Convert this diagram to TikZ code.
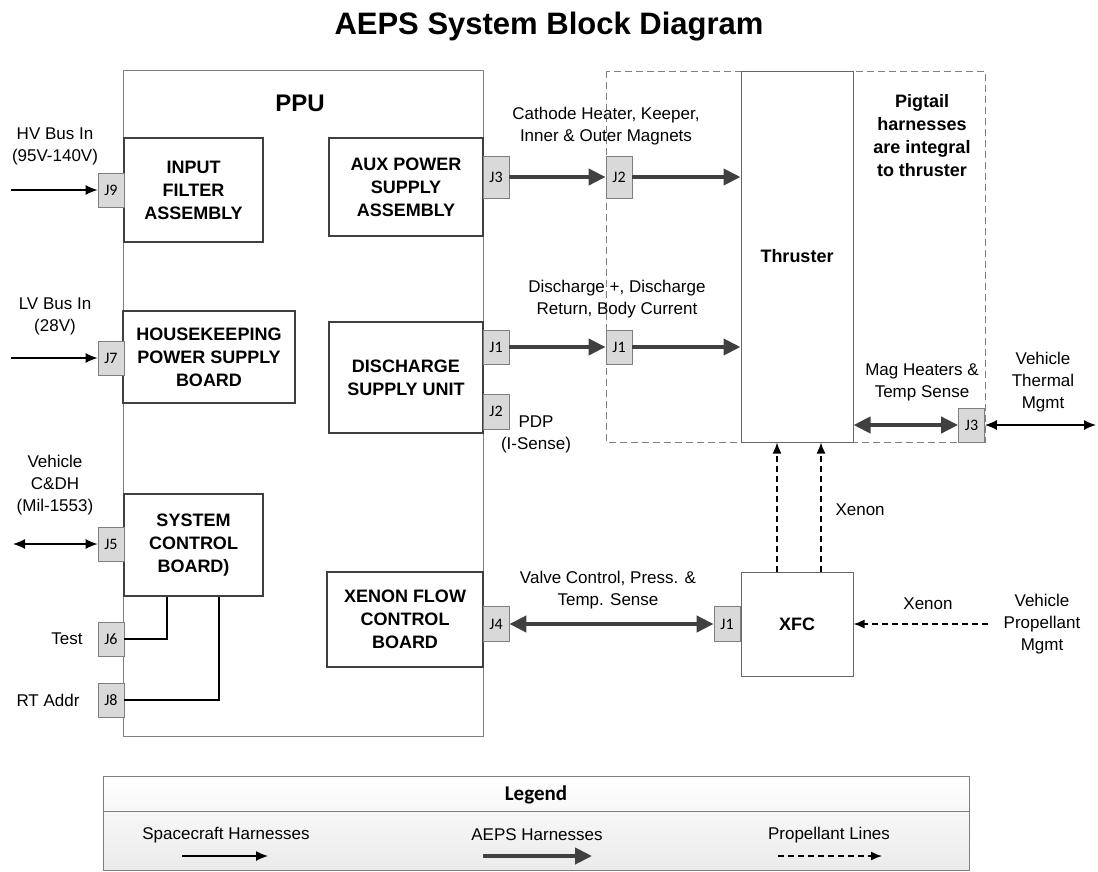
\documentclass[tikz,border=0pt]{standalone}
\usepackage{fontspec}
\setmainfont{Liberation Sans}
\newfontfamily\legendfont{Carlito}
\usetikzlibrary{arrows.meta}

\definecolor{harness}{HTML}{404040}
\definecolor{jackfill}{HTML}{D9D9D9}
\definecolor{frame}{HTML}{7F7F7F}

\begin{document}
\begin{tikzpicture}[x=1pt,y=-1pt,
  block/.style={draw=harness,line width=1.3pt,align=center,inner sep=0pt,font=\fontsize{18}{23}\selectfont\bfseries},
  unit/.style={draw=harness!80,line width=1pt,inner sep=0pt,font=\fontsize{18}{23}\selectfont\bfseries},
  jack/.style={draw=frame,fill=jackfill,line width=0.8pt,minimum width=26pt,minimum height=34pt,inner sep=0pt,font=\legendfont\fontsize{16}{16}\selectfont},
  lbl/.style={align=center,font=\fontsize{17}{22}\selectfont},
  sc/.style={line width=1.3pt,-{Latex[length=12pt,width=10pt]}},
  bisc/.style={line width=1.3pt,{Latex[length=12pt,width=10pt]}-{Latex[length=12pt,width=10pt]}},
  aeps/.style={draw=harness,line width=4pt,-{Triangle[length=17pt,width=16pt]}},
  biaeps/.style={draw=harness,line width=4pt,{Triangle[length=17pt,width=16pt]}-{Triangle[length=17pt,width=16pt]}},
  prop/.style={line width=1.5pt,dash pattern=on 6pt off 4pt,-{Latex[length=11pt,width=9pt]}}]

\useasboundingbox (0,0) rectangle (1098,871);

\node[anchor=base,font=\fontsize{31}{31}\selectfont\bfseries] (title) at (549,34) {AEPS System Block Diagram};

\draw[frame,line width=1pt] (123,70) rectangle (483,736);
\node[font=\fontsize{24}{24}\selectfont\bfseries] (ppu) at (300,103) {PPU};

\draw[frame,line width=1pt,dash pattern=on 7pt off 4pt] (606,71) rectangle (985,442);

\node[block,minimum width=139pt,minimum height=104pt] (ifa) at (193.5,190) {INPUT\\FILTER\\ASSEMBLY};
\node[block,minimum width=172pt,minimum height=92pt] (hkp) at (209,357) {HOUSEKEEPING\\POWER SUPPLY\\BOARD};
\node[block,minimum width=139pt,minimum height=102pt] (scb) at (193.5,545) {SYSTEM\\CONTROL\\BOARD)};
\node[block,minimum width=154pt,minimum height=98pt] (aux) at (406,187) {AUX POWER\\SUPPLY\\ASSEMBLY};
\node[block,minimum width=154pt,minimum height=111pt] (dsu) at (406,377.5) {DISCHARGE\\SUPPLY UNIT};
\node[block,minimum width=156pt,minimum height=95pt] (xfcb) at (405,619.5) {XENON FLOW\\CONTROL\\BOARD};

\node[unit,minimum width=112pt,minimum height=371pt] (thr) at (797,256.5) {Thruster};
\node[unit,minimum width=112pt,minimum height=104pt] (xfc) at (797,624) {XFC};
\node[align=center,font=\fontsize{18}{23}\selectfont\bfseries] (pig) at (922,136) {Pigtail\\harnesses\\are integral\\to thruster};

\node[jack] (j9) at (111,190) {J9};
\node[jack] (j7) at (111,358) {J7};
\node[jack] (j5) at (111,544) {J5};
\node[jack] (j6) at (111,639) {J6};
\node[jack] (j8) at (111,700) {J8};
\node[jack,minimum height=42pt] (j3p) at (496,177) {J3};
\node[jack,minimum height=42pt] (j2t) at (619,177) {J2};
\node[jack] (j1p) at (496,347) {J1};
\node[jack] (j1t) at (619,347) {J1};
\node[jack,minimum height=35pt] (j2p) at (496,411.5) {J2};
\node[jack,minimum height=35pt] (j4) at (496,624) {J4};
\node[jack,minimum height=35pt] (j1x) at (727,624) {J1};
\node[jack] (j3t) at (971.5,425) {J3};

\coordinate (hv) at (11,190);
\coordinate (lv) at (11,358);
\coordinate (cdh) at (13,544);
\coordinate (tm) at (1096,425);
\coordinate (vp) at (988,624);

\draw[sc] (hv) -- (j9.west);
\draw[sc] (lv) -- (j7.west);
\draw[bisc] (cdh) -- (j5.west);
\draw[line width=1.3pt] (j6.east) -| ([xshift=-26.5pt]scb.south);
\draw[line width=1.3pt] (j8.east) -| ([xshift=25.5pt]scb.south);

\draw[aeps] (j3p.east) -- (j2t.west);
\draw[aeps] (j2t.east) -- (j2t.east -| thr.west);
\draw[aeps] (j1p.east) -- (j1t.west);
\draw[aeps] (j1t.east) -- (j1t.east -| thr.west);
\draw[biaeps] (j3t.west -| thr.east) -- (j3t.west);
\draw[bisc] (j3t.east) -- (tm);
\draw[biaeps] (j4.east) -- (j1x.west);

\draw[prop] ([xshift=-20pt]xfc.north) -- ([xshift=-20pt]thr.south);
\draw[prop] ([xshift=24pt]xfc.north) -- ([xshift=24pt]thr.south);
\draw[prop] (vp) -- (xfc.east |- vp);

\node[lbl] (hvl) at (55,146) {HV Bus In\\(95V-140V)};
\node[lbl] (lvl) at (55,316.5) {LV Bus In\\(28V)};
\node[lbl] (cdhl) at (55,485.5) {Vehicle\\C\&DH\\(Mil-1553)};
\node[lbl] (tst) at (67,639) {Test};
\node[lbl] (rta) at (48,700) {RT Addr};
\node[lbl] (cathl) at (606,126) {Cathode Heater, Keeper,\\Inner \& Outer Magnets};
\node[lbl] (disl) at (617,299) {Discharge +, Discharge\\Return, Body Current};
\node[lbl] (pdpl) at (536,434.5) {PDP\\(I-Sense)};
\node[lbl] (magl) at (922,382.5) {Mag Heaters \&\\Temp Sense};
\node[lbl] (vtm) at (1043,382) {Vehicle\\Thermal\\Mgmt};
\node[lbl] (vcl) at (608,590) {Valve Control, Press. \&\\Temp. Sense};
\node[lbl,anchor=west] (xen) at (832,510) {Xenon};
\node[lbl] (xenv) at (928,604) {Xenon};
\node[lbl] (vpm) at (1042,624) {Vehicle\\Propellant\\Mgmt};

\draw[frame,top color=white,bottom color=gray!6] (103,776) rectangle (969,811);
\draw[frame,top color=gray!6,bottom color=gray!16] (103,811) rectangle (969,870);
\node[font=\legendfont\bfseries\fontsize{21}{21}\selectfont] (leg) at (536,795) {Legend};
\node[lbl] (lsc) at (226,835) {Spacecraft Harnesses};
\node[lbl] (lae) at (537,835) {AEPS Harnesses};
\node[lbl] (lpr) at (829,835) {Propellant Lines};
\draw[sc] (182,856) -- (268,856);
\draw[aeps] (483,856) -- (592,856);
\draw[prop] (778,856) -- (882,856);

\end{tikzpicture}
\end{document}
